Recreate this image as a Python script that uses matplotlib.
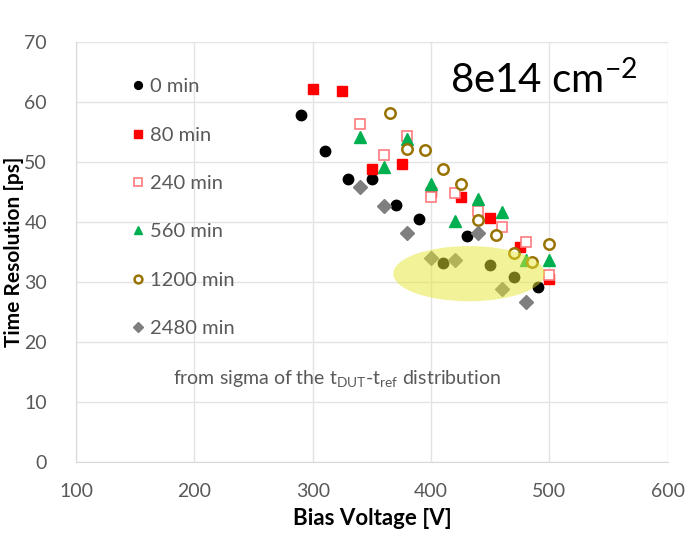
import matplotlib
matplotlib.use('Agg')
import matplotlib.pyplot as plt
from matplotlib.patches import Ellipse

plt.rcParams['font.family'] = ['Lato', 'DejaVu Sans']
plt.rcParams['mathtext.fontset'] = 'custom'
plt.rcParams['mathtext.rm'] = 'Lato'
plt.rcParams['mathtext.it'] = 'Lato:italic'
plt.rcParams['mathtext.bf'] = 'Lato:bold'

# time resolution [ps] vs bias voltage [V] after annealing steps
v_0 = [290, 310, 330, 350, 370, 390, 410, 430, 450, 470, 490]
t_0 = [57.8, 51.8, 47.2, 47.1, 42.9, 40.5, 33.2, 37.6, 32.8, 30.8, 29.1]

v_80 = [300, 325, 350, 375, 400, 425, 450, 475, 500]
t_80 = [62.2, 61.8, 48.8, 49.6, 45.0, 44.1, 40.6, 35.8, 30.5]

v_240 = [340, 360, 380, 400, 420, 440, 460, 480, 500]
t_240 = [56.3, 51.1, 54.4, 44.2, 44.8, 41.9, 39.2, 36.7, 31.1]

v_560 = [340, 360, 380, 400, 420, 440, 460, 480, 500]
t_560 = [54.1, 49.2, 53.8, 46.3, 40.2, 43.9, 41.6, 33.7, 33.7]

v_1200 = [365, 380, 395, 410, 425, 440, 455, 470, 485, 500]
t_1200 = [58.2, 52.2, 52.0, 48.8, 46.4, 40.3, 37.8, 34.8, 33.4, 36.4]

v_2480 = [340, 360, 380, 400, 420, 440, 460, 480]
t_2480 = [45.8, 42.7, 38.1, 34.0, 33.6, 38.1, 28.8, 26.7]

fig = plt.figure(figsize=(6.92, 5.40), dpi=100)
ax = fig.add_axes([0.110, 0.1444, 0.855, 0.7776])

ax.plot(v_0, t_0, 'o', ls='none', color='black', ms=7.5, label='0 min')
ax.plot(v_80, t_80, 's', ls='none', color='#ff0000', ms=7.5, label='80 min')
ax.plot(v_240, t_240, 's', ls='none', mfc='white', mec='#ff7c80', mew=1.2, ms=7.5, label='240 min')
ax.plot(v_560, t_560, '^', ls='none', color='#00b050', ms=8, label='560 min')
ax.plot(v_1200, t_1200, 'o', ls='none', mfc='white', mec='#997300', mew=1.8, ms=7.5, label='1200 min')
ax.plot(v_2480, t_2480, 'D', ls='none', color='#7f7f7f', ms=7, label='2480 min')

# highlight region
ax.add_patch(Ellipse((432, 31.4), 128, 9.2, facecolor='#e6e632', alpha=0.5,
                     edgecolor='none', zorder=5))

ax.set_xlim(100, 600)
ax.set_ylim(0, 70)
ax.set_xticks(range(100, 601, 100))
ax.set_yticks(range(0, 71, 10))
ax.grid(True, color='#e3e3e3', lw=1)
ax.set_axisbelow(True)
for s in ['top', 'right']:
    ax.spines[s].set_visible(False)
for s in ['left', 'bottom']:
    ax.spines[s].set_color('#d9d9d9')
ax.tick_params(length=0, labelsize=14, labelcolor='#595959')
ax.tick_params(axis='y', pad=21)
ax.tick_params(axis='x', pad=15)

ax.set_xlabel('Bias Voltage [V]', fontsize=16, fontweight='bold', labelpad=6)
ax.set_ylabel('Time Resolution [ps]', fontsize=15, fontweight='bold')
ax.yaxis.set_label_coords(-0.088, 0.5)

leg = ax.legend(loc='upper left', bbox_to_anchor=(0.061, 0.957), frameon=False,
                fontsize=14.5, labelcolor='#595959', markerscale=0.75,
                handlelength=0.8, handletextpad=0.2, labelspacing=1.55)

ax.text(0.79, 0.91, r'8e14 cm$^{-2}$', transform=ax.transAxes, fontsize=29,
        ha='center', va='center', color='black')
ax.text(0.441, 0.198, r'from sigma of the t$_{\mathrm{DUT}}$-t$_{\mathrm{ref}}$ distribution',
        transform=ax.transAxes, fontsize=14, ha='center', va='center', color='#595959')

fig.savefig('out.png', dpi=100)
